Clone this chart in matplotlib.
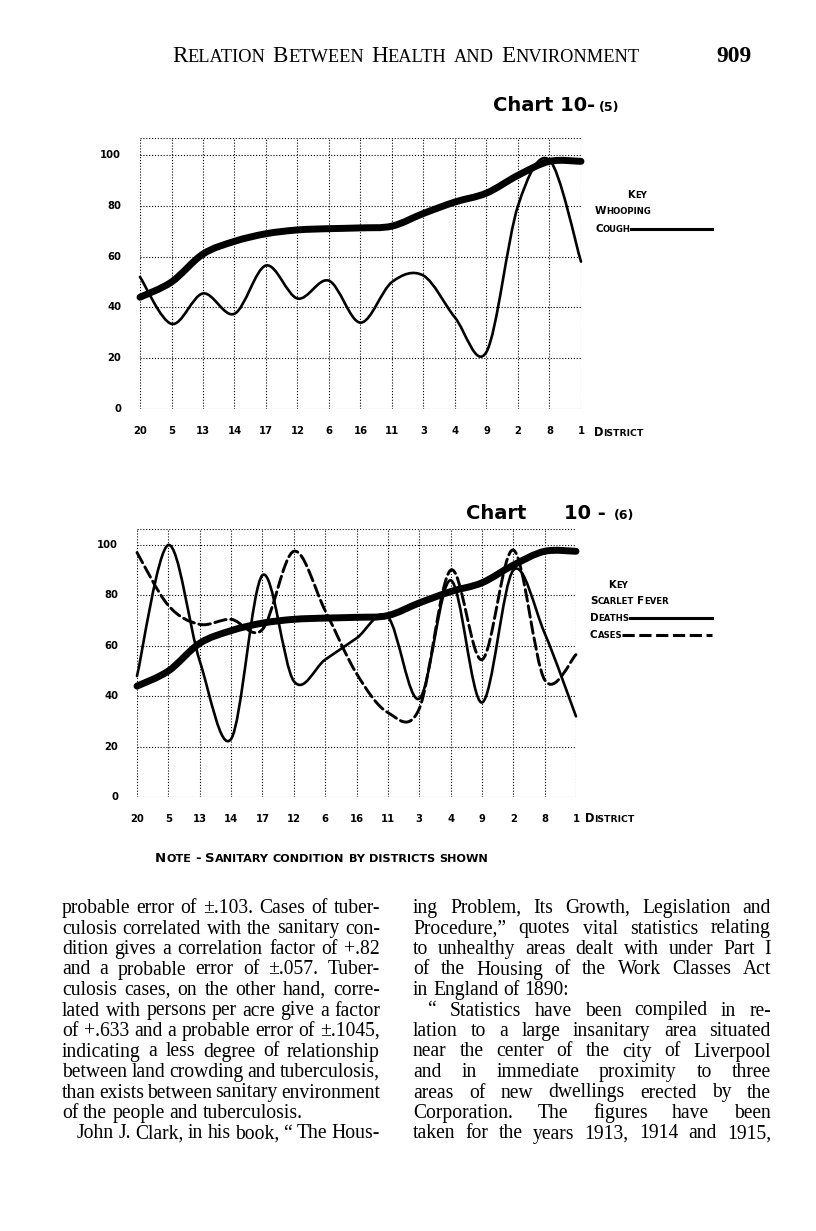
import matplotlib
matplotlib.use('Agg')
import matplotlib.pyplot as plt
from matplotlib.path import Path
from matplotlib.patches import PathPatch
from matplotlib.lines import Line2D

# district order along the x axis (same for both charts)
districts = ['20', '5', '13', '14', '17', '12', '6', '16', '11', '3', '4', '9', '2', '8', '1']
# sanitary condition (thick line, both charts)
sanitary = [44, 50, 61, 66, 69, 70.5, 71, 71.3, 72, 77, 81.5, 85, 92, 97.5, 97.5]
# chart 10-(5): whooping cough
whooping = [52, 33.5, 45.5, 37.5, 56.5, 43.5, 50.5, 34, 50, 52.5, 36, 22.5, 80, 98, 58]
# chart 10-(6): scarlet fever
scarlet_deaths = [48, 100, 54, 23, 88, 46, 54.5, 63, 71.5, 39, 86, 37.5, 90, 65, 32]
scarlet_cases = [97, 76, 68.5, 70.5, 66.5, 97.5, 74, 49, 33.5, 35, 90, 54.5, 98, 46.5, 56.5]
y_ticks = [0, 20, 40, 60, 80, 100]

left_col = [
    "probable error of \u00b1.103.  Cases of tuber-",
    "culosis correlated with the sanitary con-",
    "dition gives a correlation factor of +.82",
    "and a probable error of \u00b1.057.  Tuber-",
    "culosis cases, on the other hand, corre-",
    "lated with persons per acre give a factor",
    "of +.633 and a probable error of \u00b1.1045,",
    "indicating a less degree of relationship",
    "between land crowding and tuberculosis,",
    "than exists between sanitary environment",
    "of the people and tuberculosis.",
    "John J. Clark, in his book, \u201c The Hous-",
]
right_col = [
    "ing Problem, Its Growth, Legislation and",
    "Procedure,\u201d quotes vital statistics relating",
    "to unhealthy areas dealt with under Part I",
    "of the Housing of the Work Classes Act",
    "in England of 1890:",
    "\u201c Statistics have been compiled in re-",
    "lation to a large insanitary area situated",
    "near the center of the city of Liverpool",
    "and in immediate proximity to three",
    "areas of new dwellings erected by the",
    "Corporation.  The figures have been",
    "taken for the years 1913, 1914 and 1915,",
]

W, H = 816, 1231
fig = plt.figure(figsize=(W / 100, H / 100), dpi=100)
fig.patch.set_facecolor('white')
renderer = fig.canvas.get_renderer()
SANS = dict(fontweight='bold', family='DejaVu Sans')


def fx(px):
    return px / W


def fy(py):
    return 1 - py / H


def smooth(ax, xs, ys, **kw):
    # catmull-rom through the points, drawn as bezier path
    pts = list(zip(xs, ys))
    n = len(pts)
    verts = [pts[0]]
    codes = [Path.MOVETO]
    for i in range(n - 1):
        p0 = pts[max(i - 1, 0)]
        p1 = pts[i]
        p2 = pts[i + 1]
        p3 = pts[min(i + 2, n - 1)]
        c1 = (p1[0] + (p2[0] - p0[0]) / 6, p1[1] + (p2[1] - p0[1]) / 6)
        c2 = (p2[0] - (p3[0] - p1[0]) / 6, p2[1] - (p3[1] - p1[1]) / 6)
        verts += [c1, c2, p2]
        codes += [Path.CURVE4] * 3
    patch = PathPatch(Path(verts, codes), fill=False, clip_on=False, **kw)
    ax.add_patch(patch)
    return patch


def width_of(t):
    return t.get_window_extent(renderer).width


def runs(x, y, parts, ha='left', **kw):
    # parts: list of (text, size) or (None, gap_px); placed one after another
    items = []
    total = 0
    for s, v in parts:
        if s is None:
            items.append((None, v))
            total += v
            continue
        t = fig.text(0, 0, s, fontsize=v, va='baseline', **kw)
        w = width_of(t)
        items.append((t, w))
        total += w
    if ha == 'center':
        x -= total / 2
    elif ha == 'right':
        x -= total
    for t, w in items:
        if t is not None:
            t.set_position((fx(x), fy(y)))
        x += w
    return x


def smallcaps(x, y, s, size, ratio=0.8, ha='left', **kw):
    parts = []
    for word in s.split(' '):
        run = ''
        big = None
        for ch in word:
            b = ch.isupper() or not ch.isalpha()
            if big is None or b == big:
                run += ch
            else:
                parts.append((run.upper(), size if big else size * ratio))
                run = ch
            big = b
        if run:
            parts.append((run.upper(), size if big else size * ratio))
        parts.append((None, size * 0.32 * 100 / 72))
    return runs(x, y, parts[:-1], ha=ha, **kw)


def text_line(x0, x1, y, s, justify=True, **kw):
    words = s.split()
    texts = [fig.text(0, 0, w, va='baseline', **kw) for w in words]
    widths = [width_of(t) for t in texts]
    if justify and len(words) > 1:
        gap = (x1 - x0 - sum(widths)) / (len(words) - 1)
    else:
        gap = kw.get('fontsize', 12) * 0.25 * 100 / 72
    x = x0
    for t, w in zip(texts, widths):
        t.set_position((fx(x), fy(y)))
        x += w + gap


def chart(x_left, x_right, y0, y100, series):
    top = 106.5
    ppu = (y0 - y100) / 100
    ax = fig.add_axes([fx(x_left), fy(y0), (x_right - x_left) / W, top * ppu / H])
    ax.set_xlim(0, 14)
    ax.set_ylim(0, top)
    ax.axis('off')
    grid = dict(color='black', lw=0.8, ls=(0, (1, 1.6)), zorder=1)
    for i in range(len(districts)):
        ax.plot([i, i], [0, top], **grid)
    for v in y_ticks + [top]:
        ax.plot([0, 14], [v, v], **grid)
    xs = list(range(len(districts)))
    for ys, lw, ls in series:
        smooth(ax, xs, ys, lw=lw, ls=ls, edgecolor='black', capstyle='round', zorder=3)
    for v in y_ticks:
        ax.text(-0.6, v, str(v), ha='right', va='center', fontsize=7.2, **SANS)
    for i, d in enumerate(districts):
        ax.text(i, -22 / ppu, d, ha='center', va='center', fontsize=7.2, **SANS)
    return ax


# header
smallcaps(172, 62, 'Relation Between Health and Environment', 16.6, ratio=0.8,
          family='Liberation Serif')
fig.text(fx(716), fy(62), '909', fontsize=17, family='Liberation Serif',
         fontweight='bold', va='baseline')

# chart 10-(5)
runs(493, 111, [('Chart 10-', 14), (None, 4), ('(5)', 9)], **SANS)
chart(140, 581, 409, 155, [
    (sanitary, 5.0, '-'),
    (whooping, 1.9, '-'),
])
smallcaps(594, 436, 'District', 8.3, ratio=0.8, **SANS)
smallcaps(637, 198, 'Key', 7.2, ratio=0.85, ha='center', **SANS)
smallcaps(595, 214, 'Whooping', 7.5, ratio=0.82, **SANS)
xe = smallcaps(595, 232, 'Cough', 7.5, ratio=0.82, **SANS)
fig.add_artist(Line2D([fx(xe), fx(712)], [fy(229), fy(229)], color='black', lw=2.2,
                      transform=fig.transFigure))

# chart 10-(6)
runs(466, 519, [('Chart', 14), (None, 38), ('10 -', 14), (None, 8), ('(6)', 9)], **SANS)
chart(137, 576, 797, 545, [
    (sanitary, 5.0, '-'),
    (scarlet_deaths, 1.9, '-'),
    (scarlet_cases, 2.1, (0, (4, 1.6))),
])
smallcaps(585, 822, 'District', 8.3, ratio=0.8, **SANS)
smallcaps(618, 588, 'Key', 7.2, ratio=0.85, ha='center', **SANS)
smallcaps(590, 604, 'Scarlet Fever', 7.5, ratio=0.82, **SANS)
xe = smallcaps(590, 621, 'Deaths', 7.5, ratio=0.82, **SANS)
fig.add_artist(Line2D([fx(xe), fx(712)], [fy(618), fy(618)], color='black', lw=2.2,
                      transform=fig.transFigure))
xe = smallcaps(590, 638, 'Cases', 7.5, ratio=0.82, **SANS)
fig.add_artist(Line2D([fx(xe), fx(712)], [fy(635), fy(635)], color='black', lw=2.2,
                      ls=(0, (4, 1.5)), transform=fig.transFigure))

smallcaps(155, 862, 'Note - Sanitary condition by districts shown', 9.5, ratio=0.85, **SANS)

# body text, two justified columns
y = 913
for i, line in enumerate(left_col):
    x0 = 77 if line.startswith('John') else 62
    text_line(x0, 380, y + i * 20.5, line, justify=not line.endswith('tuberculosis.'),
              fontsize=14.1, family='Liberation Serif')
for i, line in enumerate(right_col):
    x0 = 428 if line.startswith('\u201c') else 413
    text_line(x0, 771, y + i * 20.5, line, justify=not line.endswith('1890:'),
              fontsize=14.1, family='Liberation Serif')

fig.savefig('out.png', dpi=100, facecolor='white')
